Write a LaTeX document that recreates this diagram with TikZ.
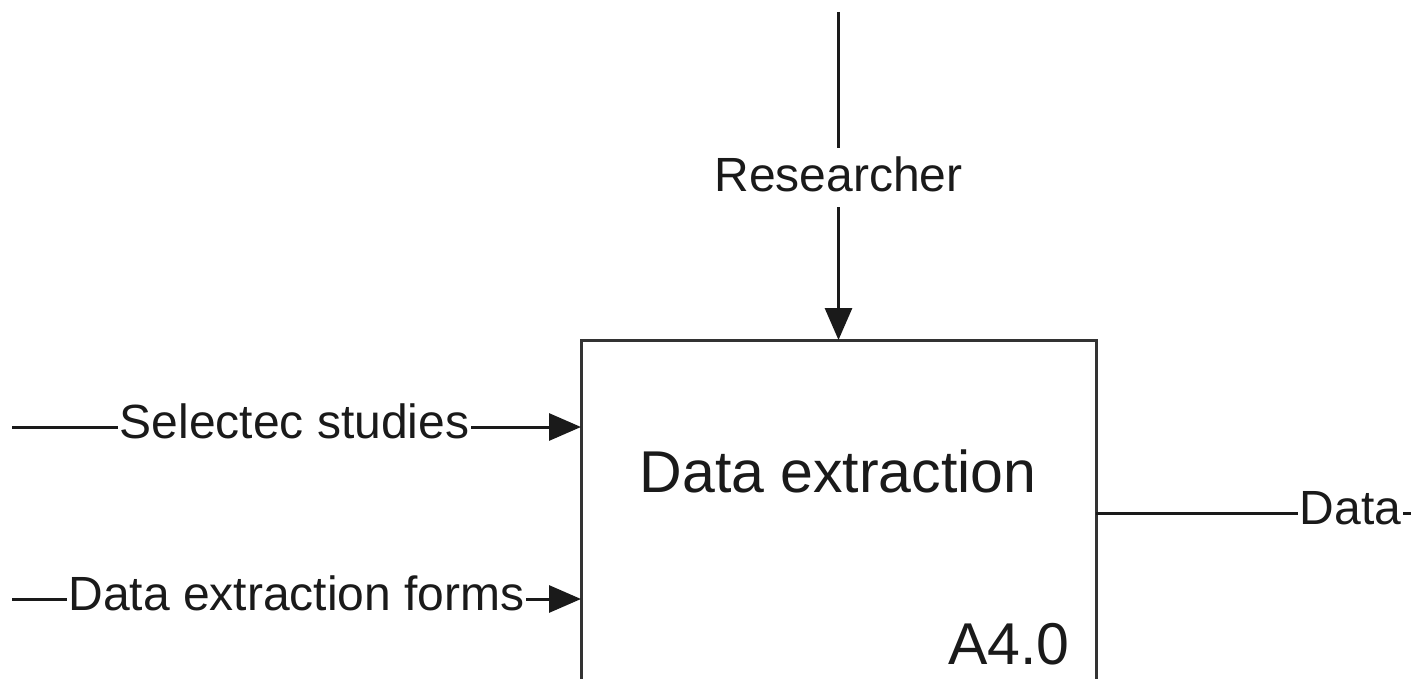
\documentclass[tikz,border=0pt]{standalone}
\usepackage{fontspec}
\setmainfont{Liberation Sans}
\usetikzlibrary{arrows.meta}
\definecolor{ink}{HTML}{1A1A1A}
\definecolor{edge}{HTML}{333333}
\begin{document}
\begin{tikzpicture}[x=1pt,y=-1pt,
  lbl/.style={font=\fontsize{48}{56}\selectfont, text=ink, fill=white,
              inner xsep=1.5pt, inner ysep=0pt, anchor=base},
  title/.style={font=\fontsize{59}{68}\selectfont, text=ink, inner sep=0pt},
  flow/.style={draw=ink, line width=3pt, -{Triangle[length=32pt,width=27pt]}},
  plainflow/.style={draw=ink, line width=3pt},
  procbox/.style={draw=edge, line width=3pt, fill=white, minimum width=515pt,
                  minimum height=420pt, anchor=north west, inner sep=0pt, outer sep=0pt}]
\useasboundingbox (0,0) rectangle (1411,679);
\clip (0,0) rectangle (1411,679);

% activity box
\node[procbox] (proc) at (581,340) {};
\node[title, anchor=base] (ptitle) at (838,492) {Data extraction};
\node[title, anchor=base east] (pnum) at (1070,664) {A4.0};

% control from above
\coordinate (rtop) at (838.5,12);
\draw[flow] (rtop) -- (proc.north);
\node[lbl, text height=44pt, text depth=15pt] (rlab) at (838.5,192) {Researcher};

% inputs from the left
\coordinate (sin) at (12,427);
\draw[flow] (sin) -- (sin -| proc.west);
\node[lbl] (slab) at (294.5,438) {Selectec studies};

\coordinate (fin) at (12,599);
\draw[flow] (fin) -- (fin -| proc.west);
\node[lbl] (flab) at (296.5,610) {Data extraction forms};

% output to the right
\coordinate (dout) at (1500,513);
\draw[plainflow] (proc.east |- dout) -- (dout);
\node[lbl] (dlab) at (1350.5,524) {Data};
\end{tikzpicture}
\end{document}
